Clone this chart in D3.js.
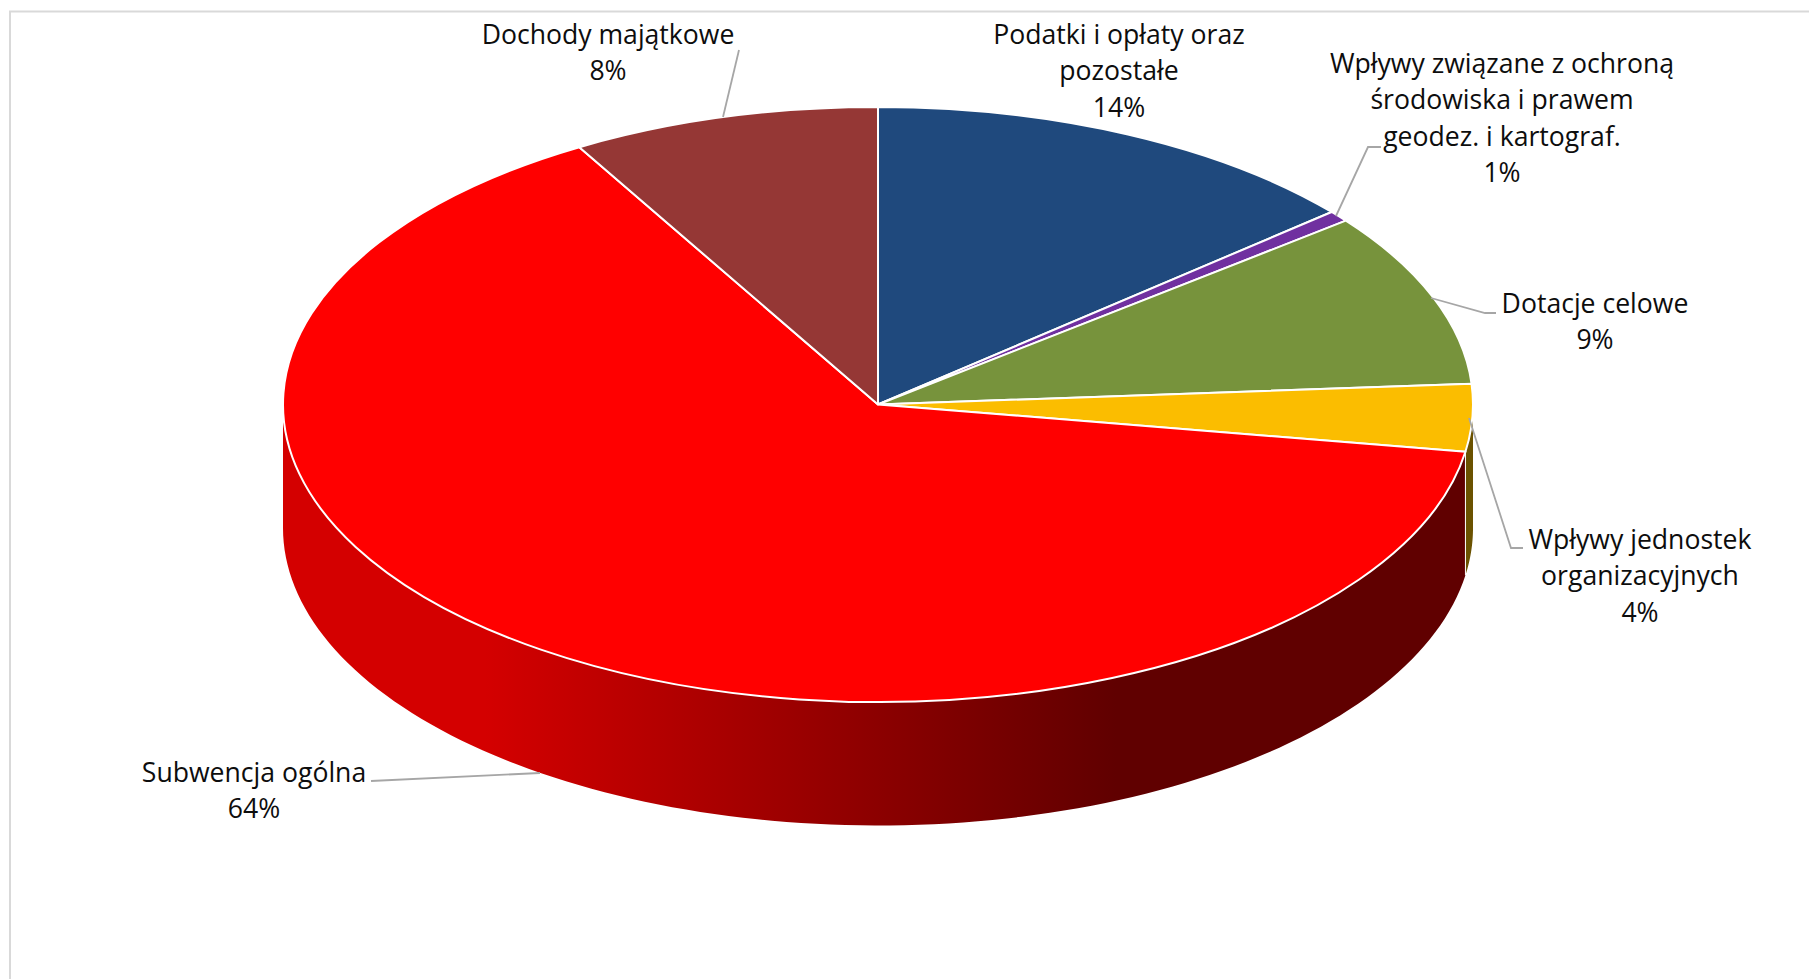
<!DOCTYPE html>
<html lang="pl">
<head>
<meta charset="utf-8">
<script src="https://cdn.jsdelivr.net/npm/d3@7"></script>
<style>
html,body{margin:0;padding:0;background:#fff;overflow:hidden}
svg{display:block}
text{font-family:"Open Sans",sans-serif;font-size:26.6px;fill:#0d0d0d;text-anchor:middle}
</style>
</head>
<body>
<svg id="chart" width="1809" height="979"></svg>
<script>
// Data
const categories = ["Podatki i opłaty oraz pozostałe","Wpływy związane z ochroną środowiska i prawem geodez. i kartograf.","Dotacje celowe","Wpływy jednostek organizacyjnych","Subwencja ogólna","Dochody majątkowe"];
const shares = [13.8,0.6,9.49,3.65,64.09,8.37];
const labelLines = [
  ["Podatki i opłaty oraz","pozostałe"],
  ["Wpływy związane z ochroną","środowiska i prawem","geodez. i kartograf."],
  ["Dotacje celowe"],
  ["Wpływy jednostek","organizacyjnych"],
  ["Subwencja ogólna"],
  ["Dochody majątkowe"]
];
// Styles and layout
const topColors = ["#1f497d","#7030a0","#77933c","#fbbd00","#ff0000","#953735"];
const sideColors = ["#10253f","#3c1a56","#3f4f20","#6b5200","url(#redSide)","#4f1d1c"];
const labelPos = [
  {x:1119,y:43.5},{x:1502,y:72.5},{x:1595,y:312.5},{x:1640,y:548.5},{x:254,y:781.5},{x:608,y:43.5}
];
const leaders = [
  null,
  [[1381,147],[1368,147],[1336,216]],
  [[1496,313],[1485,313],[1431,298]],
  [[1523,548],[1511,548],[1469,418]],
  [[371,781],[540,773]],
  [[739,50],[723,117]]
];
const cx=878, cy=404.5, rx=595, ry=297.5, depth=123.5;

const svg=d3.select("#chart");
const defs=svg.append("defs");
const grad=defs.append("linearGradient").attr("id","redSide").attr("gradientUnits","userSpaceOnUse")
  .attr("x1",cx-rx).attr("x2",cx+rx).attr("y1",0).attr("y2",0);
[[0,"#d40000"],[0.17,"#d40000"],[0.70,"#600000"],[1,"#600000"]].forEach(s=>grad.append("stop").attr("offset",s[0]).attr("stop-color",s[1]));

// chart frame (only the top and left edges fall inside the crop)
svg.append("path").attr("d",d3.line()([[10,979],[10,11.5],[1809,11.5]])).attr("fill","none").attr("stroke","#d9d9d9").attr("stroke-width",2);

const pie=d3.pie().sort(null).value(d=>d)(shares);
const px=a=>cx+rx*Math.sin(a), py=a=>cy-ry*Math.cos(a);

// side walls, only the part facing the viewer
const sideGroup=svg.append("g");
pie.forEach((s,i)=>{
  const a0=Math.max(s.startAngle,Math.PI/2), a1=Math.min(s.endAngle,Math.PI*3/2);
  if(a1<=a0) return;
  const angles=d3.range(0,121).map(k=>a0+(a1-a0)*k/120);
  const pts=angles.map(a=>[px(a),py(a)]).concat(angles.slice().reverse().map(a=>[px(a),py(a)+depth]));
  sideGroup.append("path").attr("d",d3.line()(pts)+"Z").attr("fill",sideColors[i]);
  if(s.startAngle>Math.PI/2){
    // white seam at the visible edge between two walls
    sideGroup.append("path").attr("d",d3.line()([[px(a0),py(a0)],[px(a0),py(a0)+depth]])).attr("stroke","#fff").attr("stroke-width",1).attr("fill","none");
  }
});

// top face: circular arcs squashed into the ellipse
const arc=d3.arc().innerRadius(0).outerRadius(rx);
svg.append("g").attr("transform",`translate(${cx},${cy}) scale(1,${ry/rx})`)
  .selectAll("path").data(pie).join("path")
  .attr("d",arc).attr("fill",(d,i)=>topColors[i])
  .attr("stroke","#fff").attr("stroke-width",2).attr("vector-effect","non-scaling-stroke").attr("stroke-linejoin","round");

// leader lines
svg.append("g").selectAll("path").data(leaders.filter(Boolean)).join("path")
  .attr("d",d=>d3.line()(d)).attr("fill","none").attr("stroke","#a6a6a6").attr("stroke-width",1.8);

// labels
const lineH=36.5;
const fmt=d3.format(".0f");
const g=svg.append("g");
categories.forEach((c,i)=>{
  const t=g.append("text").attr("x",labelPos[i].x).attr("y",labelPos[i].y);
  labelLines[i].concat(fmt(shares[i])+"%").forEach((ln,k)=>{
    t.append("tspan").attr("x",labelPos[i].x).attr("y",labelPos[i].y+k*lineH).text(ln);
  });
});
</script>
</body>
</html>
